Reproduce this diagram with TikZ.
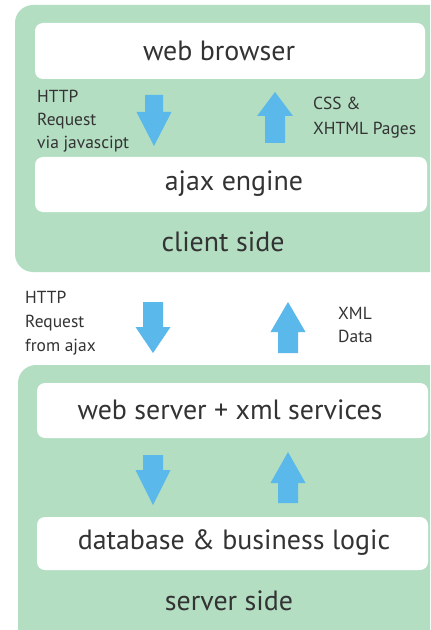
\documentclass[tikz,border=0pt]{standalone}
\usepackage{fontspec}
\setmainfont{PT Sans}
\definecolor{boxgreen}{HTML}{B3DEC2}
\definecolor{arrowblue}{HTML}{5BB8EA}
\definecolor{txt}{HTML}{333333}
\newcommand\fatdown[6]{% cx, ytail, yhead, ytip, shaft half, head half
  \fill[arrowblue] ({#1-#5},#2) -- ({#1+#5},#2) -- ({#1+#5},#3) -- ({#1+#6},#3) -- (#1,#4) -- ({#1-#6},#3) -- ({#1-#5},#3) -- cycle;}
\begin{document}
\begin{tikzpicture}[x=1bp,y=-1bp,
  greenpanel/.style={fill=boxgreen, rounded corners=18bp},
  whitebox/.style={fill=white, rounded corners=8bp},
  bigtxt/.style={text=txt, font=\fontsize{28}{32}\selectfont, inner sep=0pt},
  smalltxt/.style={text=txt, align=left, inner sep=0pt, anchor=west},
]
\useasboundingbox (0,0) rectangle (430,630);
\begin{scope}
\clip (0,0) rectangle (430,630);
\fill[white] (0,0) rectangle (430,630);
\fill[greenpanel] (15,5) rectangle (460,272);
\fill[greenpanel] (18,365) rectangle (460,660);
\fill[whitebox] (35,23) rectangle (425,79);
\fill[whitebox] (35,157) rectangle (427,212);
\fill[whitebox] (37,383) rectangle (428,438);
\fill[whitebox] (37,517) rectangle (428,570);
\end{scope}
\node[bigtxt] (wb) at (219,51) {web browser};
\node[bigtxt] (aj) at (234,184) {ajax engine};
\node[bigtxt] (cs) at (223,242) {client side};
\node[bigtxt] (ws) at (230,410) {web server + xml services};
\node[bigtxt] (db) at (234,543) {database \& business logic};
\node[bigtxt] (ss) at (229,601) {server side};
% arrows
\fatdown{154}{95}{112}{146}{9}{17.5}
\fatdown{275}{143}{116}{92}{10}{18}
\fatdown{153}{302}{327}{353}{10}{17.5}
\fatdown{288}{353}{332}{302}{10}{17.5}
\fatdown{153}{455}{470}{505}{10}{17.5}
\fatdown{288}{503}{483}{452}{10}{17.5}
% labels
\node[smalltxt, font=\fontsize{17.5}{23}\selectfont] (l1) at (37,121) {HTTP\\Request\\via javascipt};
\node[smalltxt, font=\fontsize{17.5}{25}\selectfont] (l2) at (313,117.5) {CSS \&\\XHTML Pages};
\node[smalltxt, font=\fontsize{17.5}{24}\selectfont] (l3) at (25,323) {HTTP\\Request\\from ajax};
\node[smalltxt, font=\fontsize{17.5}{24}\selectfont] (l4) at (338,325) {XML\\Data};
\end{tikzpicture}
\end{document}
